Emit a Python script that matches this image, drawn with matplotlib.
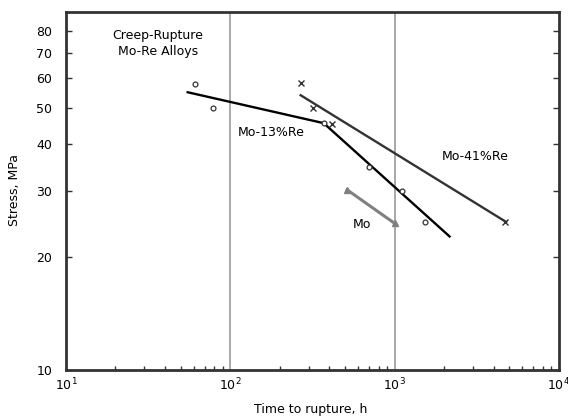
import matplotlib
matplotlib.use('Agg')
import matplotlib.pyplot as plt
from matplotlib.ticker import FixedLocator, NullFormatter, LogLocator

# Mo-13%Re test points and bilinear fit
re13_t = [61, 78, 370, 695, 1110, 1540]
re13_s = [58, 50, 45.5, 34.8, 30.0, 24.8]
re13_fit_t = [55, 370, 2160]
re13_fit_s = [55, 45.5, 22.7]

# Mo-41%Re test points and fit
re41_t = [268, 318, 416, 4670]
re41_s = [58.2, 50.0, 45.3, 24.8]
re41_fit_t = [268, 4780]
re41_fit_s = [54, 24.8]

# unalloyed Mo
mo_t = [515, 1000]
mo_s = [30.2, 24.6]

yticks = [10, 20, 30, 40, 50, 60, 70, 80]

plt.rcParams['font.family'] = 'DejaVu Sans'
fig = plt.figure(figsize=(5.68, 4.18), dpi=100)
ax = fig.add_axes([0.1162, 0.1148, 0.8678, 0.8565])

ax.set_xscale('log')
ax.set_yscale('log')
ax.set_xlim(10, 1e4)
ax.set_ylim(10, 90)

for v in [100, 1000]:
    ax.axvline(v, color='#999999', lw=1.2, zorder=1)

ax.plot(re13_fit_t, re13_fit_s, color='black', lw=1.7, zorder=3)
ax.plot(re13_t, re13_s, 'o', ms=3.5, mfc='white', mec='#333333', mew=0.9, zorder=4)

ax.plot(re41_fit_t, re41_fit_s, color='#333333', lw=1.7, zorder=3)
ax.plot(re41_t, re41_s, 'x', ms=4, color='#333333', mew=1, zorder=4)

ax.plot(mo_t, mo_s, color='#808080', lw=2.2, marker='^', ms=4, zorder=3)

def label(txt, px, py):
    # place text by pixel position measured from the top-left corner
    ax.annotate(txt, xy=(px, 418 - py), xycoords='figure pixels',
                fontsize=9, ha='center', va='center', linespacing=1.3)

label('Creep-Rupture\nMo-Re Alloys', 158, 44)
label('Mo-13%Re', 271, 133)
label('Mo-41%Re', 475, 157)
label('Mo', 362, 225)

ax.yaxis.set_major_locator(FixedLocator(yticks))
ax.yaxis.set_minor_locator(FixedLocator([]))
ax.set_yticklabels([str(v) for v in yticks])
ax.xaxis.set_minor_locator(LogLocator(base=10, subs=range(2, 10)))
ax.xaxis.set_minor_formatter(NullFormatter())

ax.tick_params(axis='both', which='both', direction='in', labelsize=9,
               color='#333333', width=1)
ax.tick_params(axis='y', right=True, length=4, pad=10)
ax.tick_params(axis='x', which='major', length=0, pad=5)
ax.tick_params(axis='x', which='minor', length=3)

for s in ax.spines.values():
    s.set_linewidth(2)
    s.set_color('#333333')

ax.set_xlabel('Time to rupture, h', fontsize=9, va='center')
ax.set_ylabel('Stress, MPa', fontsize=9, va='center')
ax.xaxis.set_label_coords(0.497, -0.109)
ax.yaxis.set_label_coords(-0.1035, 0.503)

fig.savefig('out.png', dpi=100)
